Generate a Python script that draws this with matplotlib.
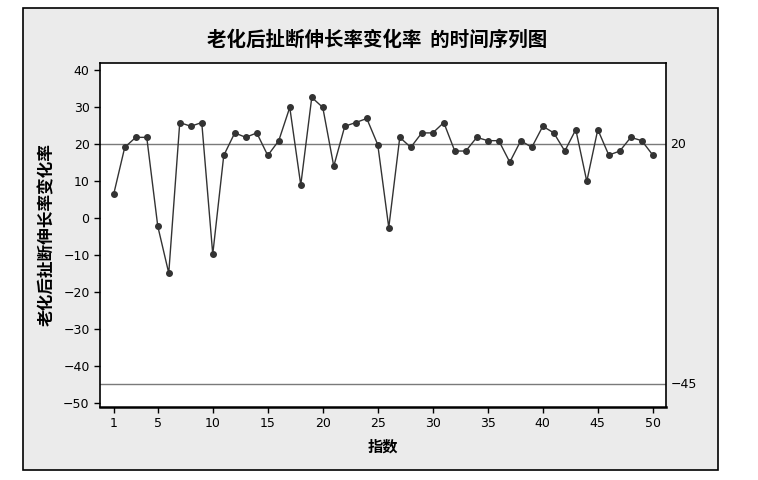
import numpy as np
import matplotlib
matplotlib.use("Agg")
import matplotlib.pyplot as plt
from matplotlib.patches import Rectangle

plt.rcParams['font.family'] = ['Noto Sans CJK SC', 'DejaVu Sans']

title = "老化后扯断伸长率变化率  的时间序列图"
ylabel = "老化后扯断伸长率变化率"
xlabel = "指数"

index = np.arange(1, 51)
values = [6.5, 19.1, 21.8, 21.8, -2.2, -14.9, 25.8, 24.8, 25.8, -9.8,
          16.9, 23.0, 21.8, 23.0, 16.9, 20.9, 29.9, 8.9, 32.6, 29.9,
          14.0, 24.8, 25.8, 26.9, 19.8, -2.6, 21.8, 19.1, 23.0, 23.0,
          25.8, 18.1, 18.1, 21.8, 20.9, 20.9, 15.1, 20.9, 19.1, 24.8,
          23.0, 18.1, 23.9, 9.9, 23.9, 17.0, 18.1, 21.8, 20.9, 17.0]
ref_lines = [20, -45]
xticks = [1, 5, 10, 15, 20, 25, 30, 35, 40, 45, 50]
yticks = [40, 30, 20, 10, 0, -10, -20, -30, -40, -50]

W, H = 758, 480
fig = plt.figure(figsize=(W / 100, H / 100), dpi=100)
fig.patch.set_facecolor('white')

# grey panel with a black frame, behind the axes
panel = Rectangle((23 / W, 1 - 470 / H), (718 - 23) / W, (470 - 8) / H,
                  transform=fig.transFigure, facecolor='#ebebeb',
                  edgecolor='black', linewidth=1.2, zorder=-10)
fig.add_artist(panel)

ax = fig.add_axes([100 / W, 1 - 407 / H, (666 - 100) / W, (407 - 63) / H])
ax.set_facecolor('white')
ax.set_zorder(1)

for r in ref_lines:
    ax.axhline(r, color='#7a7a7a', linewidth=1.0, zorder=1)
    ax.text(1.008, r, str(r).replace('-', '\u2212'), transform=ax.get_yaxis_transform(),
            va='center', ha='left', fontsize=9, family='DejaVu Sans')

ax.plot(index, values, color='#333333', linewidth=1.0, marker='o',
        markersize=4, markerfacecolor='#333333', markeredgecolor='#333333', zorder=3)

ax.set_xlim(-0.25, 51.2)
ax.set_ylim(-51.1, 41.9)
ax.set_xticks(xticks)
ax.set_yticks(yticks)
ax.tick_params(direction='out', length=4, width=1, labelsize=9, colors='black')
for lab in ax.get_xticklabels() + ax.get_yticklabels():
    lab.set_family('DejaVu Sans')

for s in ax.spines.values():
    s.set_linewidth(1.2)
ax.spines['bottom'].set_linewidth(1.8)

ax.set_xlabel(xlabel, fontsize=11, fontweight='bold', labelpad=6)
ax.set_ylabel(ylabel, fontsize=12, fontweight='bold', labelpad=5)
fig.text(377 / W, 1 - 40 / H, title, ha='center', va='center',
         fontsize=14, fontweight='bold')

fig.savefig('out.png', dpi=100)
